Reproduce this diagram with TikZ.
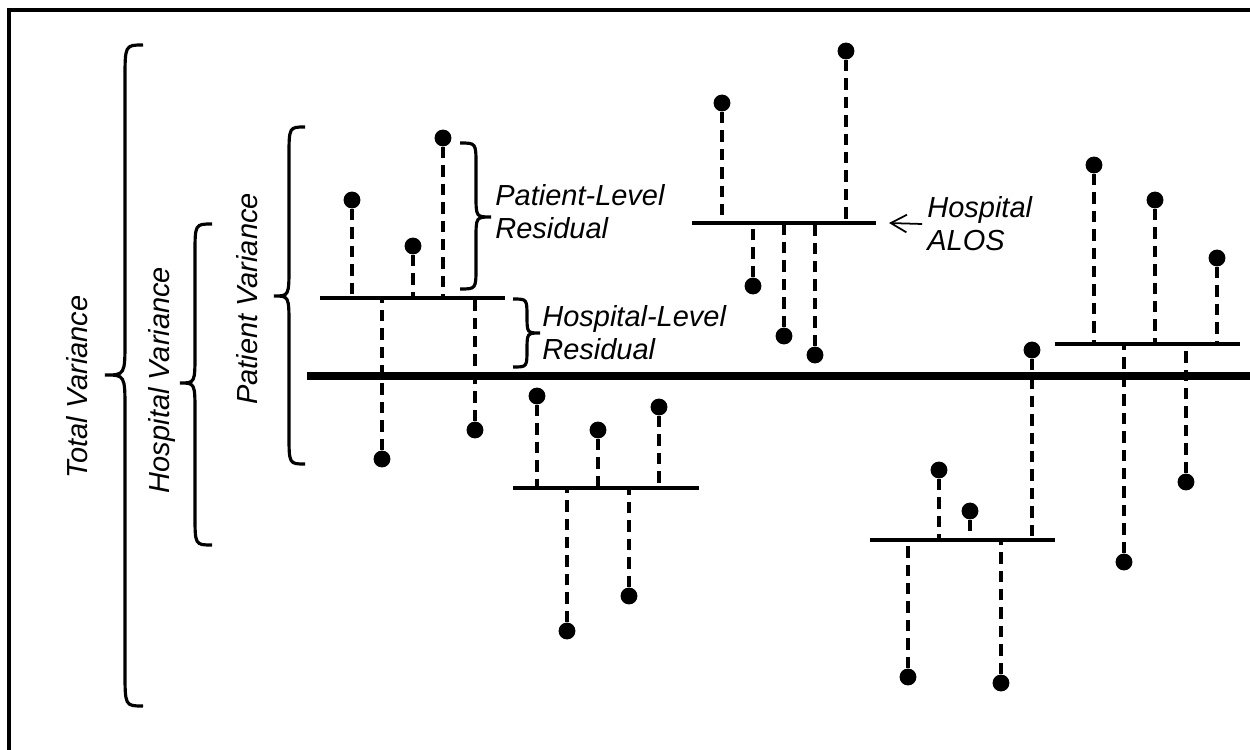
\documentclass[tikz,border=0pt]{standalone}
\usepackage{fontspec}
\setmainfont{Liberation Sans}
\usetikzlibrary{arrows.meta}
\newcommand{\stemdot}[4]{%
  \node[dot] (#1) at (#2,#3) {};
  \coordinate (#1b) at (#2,#4);
  \draw[stemline] (#1) -- (#1b);}
\newcommand{\curlyb}[7]{%
  \draw[bracepath] (#1,#4) .. controls (#2,#4) .. (#2,{#4+#7})
    -- (#2,{#6-#7}) .. controls (#2,#6) .. (#3,#6)
    .. controls (#2,#6) .. (#2,{#6+#7})
    -- (#2,{#5-#7}) .. controls (#2,#5) .. (#1,#5);}
\begin{document}
\begin{tikzpicture}[x=0.02cm,y=-0.02cm,
  dot/.style={circle,fill=black,inner sep=0pt,minimum size=9.6pt},
  stemline/.style={line width=1.8pt,dash pattern=on 6.5pt off 4pt},
  hline/.style={line width=2.7pt},
  mainline/.style={line width=4.2pt},
  frameline/.style={line width=2.6pt},
  bracepath/.style={line width=1.8pt},
  lbl/.style={font=\fontsize{16.5pt}{18.7pt}\selectfont\itshape,inner sep=0pt,align=left},
  alosarrow/.style={line width=1pt,-{Straight Barb[length=9pt,width=10pt]}},
]
\useasboundingbox (0,0) rectangle (1250,750);
% frame (top and left)
\coordinate (fbl) at (9,750);
\coordinate (ftl) at (9,10);
\coordinate (ftr) at (1250,10);
\draw[frameline] (fbl) -- (ftl) -- (ftr);
% grand mean line
\coordinate (m0) at (307,376);
\coordinate (m1) at (1250,376);
\draw[mainline] (m0) -- (m1);
% hospital lines
\coordinate (h1a) at (320,298); \coordinate (h1z) at (505,298);
\coordinate (h2a) at (692,223); \coordinate (h2z) at (876,223);
\coordinate (h3a) at (513,488); \coordinate (h3z) at (699,488);
\coordinate (h4a) at (870,540); \coordinate (h4z) at (1055,540);
\coordinate (h5a) at (1055,344); \coordinate (h5z) at (1240,344);
\foreach \h in {1,...,5}{\draw[hline] (h\h a) -- (h\h z);}
% hospital 1
\stemdot{p11}{352}{200}{298}
\stemdot{p12}{413}{246}{298}
\stemdot{p13}{443}{138}{298}
\stemdot{p14}{382}{459}{298}
\stemdot{p15}{475}{430}{298}
% hospital 2
\stemdot{p21}{722}{103}{223}
\stemdot{p22}{846}{51}{223}
\stemdot{p23}{753}{286}{223}
\stemdot{p24}{784}{336}{223}
\stemdot{p25}{815}{355}{223}
% hospital 3
\stemdot{p31}{537}{396}{488}
\stemdot{p32}{598}{430}{488}
\stemdot{p33}{659}{407}{488}
\stemdot{p34}{567}{631}{488}
\stemdot{p35}{629}{596}{488}
% hospital 4
\stemdot{p41}{939}{470}{540}
\stemdot{p42}{970}{511}{540}
\stemdot{p43}{1032}{350}{540}
\stemdot{p44}{908}{677}{540}
\stemdot{p45}{1001}{683}{540}
% hospital 5
\stemdot{p51}{1094}{165}{344}
\stemdot{p52}{1155}{200}{344}
\stemdot{p53}{1217}{258}{344}
\stemdot{p54}{1124}{562}{344}
\stemdot{p55}{1186}{482}{344}
% braces
\curlyb{143}{125}{105}{45}{706}{375}{35}
\curlyb{212}{195}{180}{224}{545}{383}{30}
\curlyb{305}{289}{274}{127}{464}{296}{30}
\curlyb{460}{476}{491}{143}{289}{217}{22}
\curlyb{513}{527}{540}{299}{367}{333}{18}
% labels
\node[lbl,rotate=90] (tv) at (77,387) {Total Variance};
\node[lbl,rotate=90] (hv) at (162,380) {Hospital Variance};
\node[lbl,rotate=90] (pv) at (247,299) {Patient Variance};
\node[lbl,anchor=west] (plr) at (495,212) {Patient-Level\\Residual};
\node[lbl,anchor=west] (hlr) at (542,333) {Hospital-Level\\Residual};
\node[lbl,anchor=west] (alos) at (927,224) {Hospital\\ALOS};
\coordinate (h2tip) at (889,223);
\draw[alosarrow] ([xshift=-2.8pt]alos.west) -- (h2tip);
\end{tikzpicture}
\end{document}
